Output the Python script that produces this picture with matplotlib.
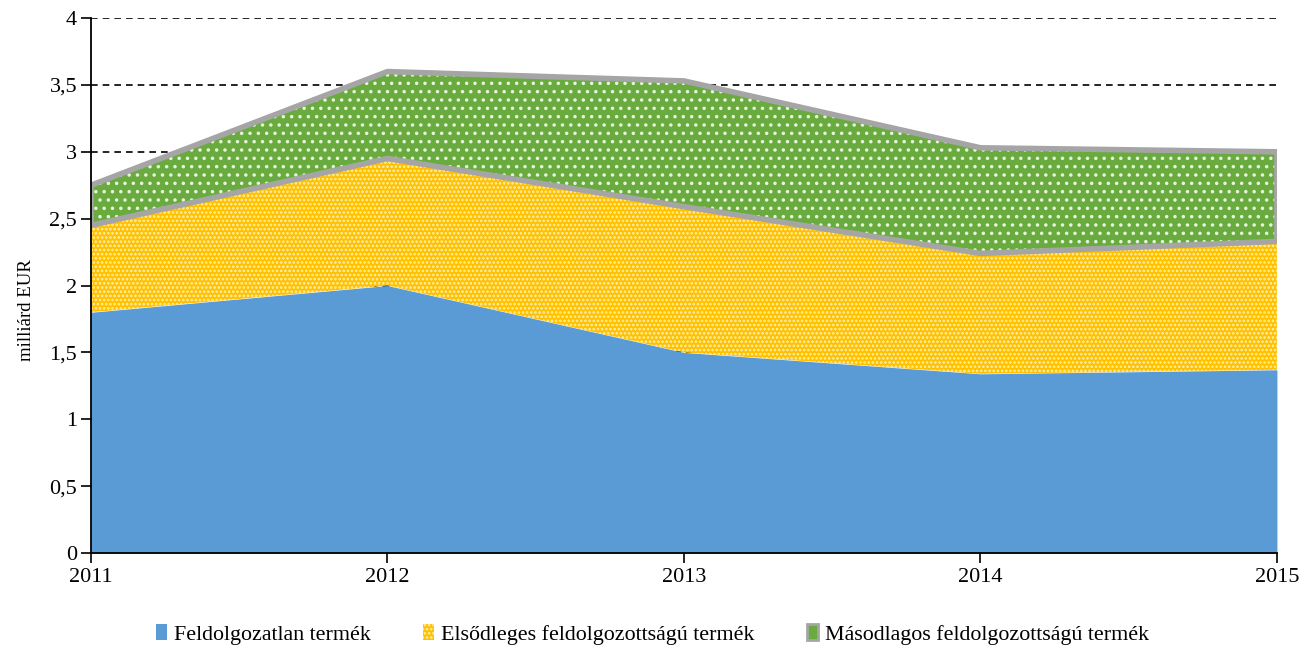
import matplotlib.pyplot as plt
import numpy as np
from matplotlib.patches import Patch

years = [2011, 2012, 2013, 2014, 2015]
feldolgozatlan = [1.80, 2.00, 1.50, 1.34, 1.37]
elsodleges = [0.65, 0.95, 1.09, 0.90, 0.96]
masodlagos = [0.30, 0.65, 0.94, 0.79, 0.67]
labels = ['Feldolgozatlan termék', 'Elsődleges feldolgozottságú termék',
          'Másodlagos feldolgozottságú termék']
yticks = [0, 0.5, 1, 1.5, 2, 2.5, 3, 3.5, 4]


def main():
    plt.rcParams['font.family'] = ['Liberation Serif', 'DejaVu Serif']
    plt.rcParams['hatch.linewidth'] = 1.3

    fig = plt.figure(figsize=(13.05, 6.45), dpi=100)
    ax = fig.add_axes([0.0697, 0.1426, 0.9088, 0.8294])

    for y in yticks[1:]:
        ax.axhline(y, color='black', linestyle=(0, (4, 3)), linewidth=1.2, zorder=0)

    b1 = np.array(feldolgozatlan)
    b2 = b1 + np.array(elsodleges)
    b3 = b2 + np.array(masodlagos)

    ax.fill_between(years, 0, b1, color='#5B9BD5', linewidth=0, zorder=1)
    ax.fill_between(years, b1, b2, facecolor='#FFC000', edgecolor='#FFF0A8',
                    hatch='....', linewidth=0, zorder=1)
    ax.fill_between(years, b2, b3, facecolor='#6AAB40', edgecolor='#E6F4DA',
                    hatch='..', linewidth=0, zorder=1)
    ax.fill_between(years, b2, b3, facecolor='none', edgecolor='#A5A5A5',
                    linewidth=4, zorder=2)

    ax.set_xlim(2011, 2015)
    ax.set_ylim(0, 4)
    ax.set_xticks(years)
    ax.set_yticks(yticks)
    ax.set_yticklabels([('%g' % v).replace('.', ',') for v in yticks])
    ax.tick_params(axis='both', labelsize=16, direction='out', length=7, width=1.2)
    ax.tick_params(axis='x', pad=4)
    ax.tick_params(axis='y', pad=3)
    for s in ['top', 'right']:
        ax.spines[s].set_visible(False)
    for s in ['left', 'bottom']:
        ax.spines[s].set_linewidth(1.3)
        ax.spines[s].set_zorder(5)
    ax.set_ylabel('milliárd EUR', fontsize=13.5)
    ax.yaxis.set_label_coords(-0.047, 0.454)

    handles = [Patch(facecolor='#5B9BD5', edgecolor='none'),
               Patch(facecolor='#FFC000', edgecolor='#FFF0A8', hatch='....', linewidth=0),
               Patch(facecolor='#6AAB40', edgecolor='#A5A5A5', linewidth=2)]
    fig.legend(handles, labels, loc='lower center', bbox_to_anchor=(0.5, -0.03),
               ncol=3, frameon=False, fontsize=15.8, handlelength=0.5, handleheight=0.8,
               columnspacing=2.4, handletextpad=0.3)

    fig.savefig('out.png', dpi=100)


if __name__ == "__main__":
    main()
